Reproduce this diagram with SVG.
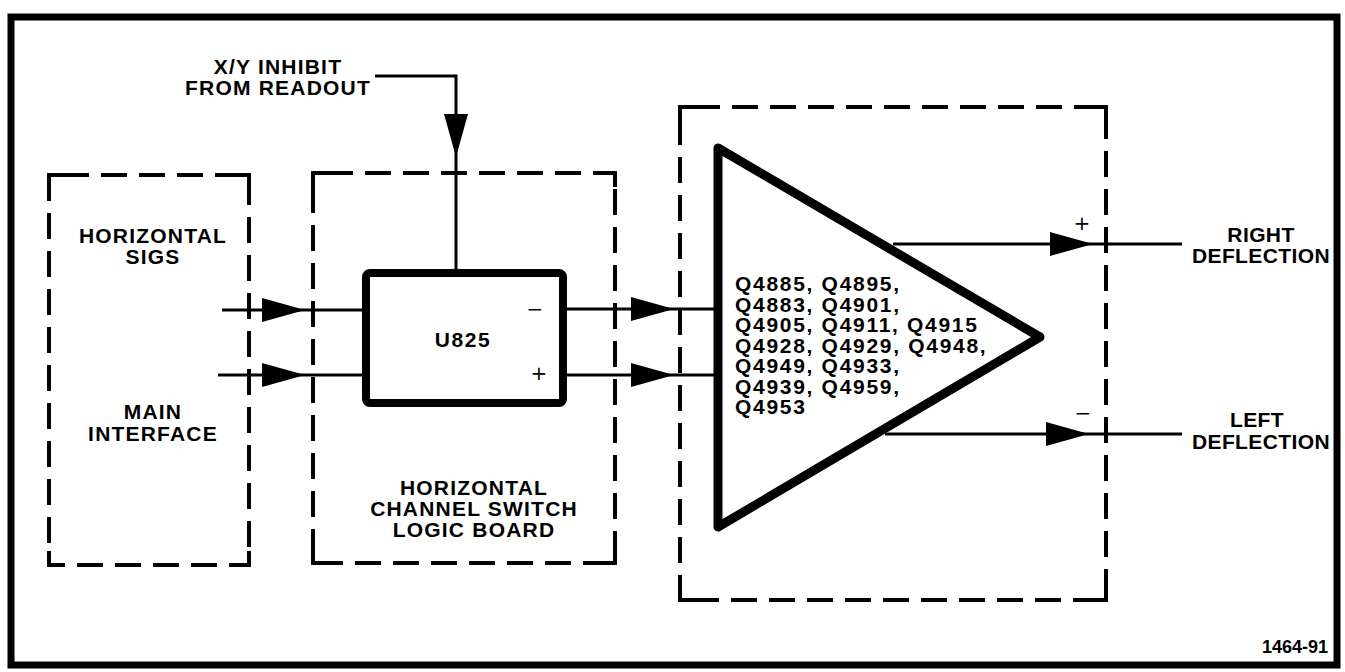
<svg xmlns="http://www.w3.org/2000/svg" width="1345" height="672" viewBox="0 0 1345 672">
<style>
.lbl{font-family:"Liberation Sans",Arial,sans-serif;font-weight:bold;font-size:21px;letter-spacing:1.2px;fill:#000;text-anchor:middle}
.qtx{font-family:"Liberation Sans",Arial,sans-serif;font-weight:bold;font-size:21px;letter-spacing:1.7px;fill:#000}
.sign{font-family:"DejaVu Sans",sans-serif;font-size:20px;fill:#000;text-anchor:middle}
.dash{fill:none;stroke:#000;stroke-width:4;stroke-dasharray:26 12}
.corner{fill:none;stroke:#000;stroke-width:4}
.wire{fill:none;stroke:#000;stroke-width:3;marker-end:url(#ah)}
</style>
<defs>
<marker id="ah" markerUnits="userSpaceOnUse" markerWidth="44" markerHeight="26" refX="43" refY="12" orient="auto">
<path d="M0,0 L43,12 L0,24 Z" fill="#000"/>
</marker>
</defs>
<rect x="0" y="0" width="1345" height="672" fill="#fff"/>
<rect id="frame" x="11" y="17" width="1326" height="648" fill="none" stroke="#000" stroke-width="7"/>

<g id="main-interface">
<rect class="dash" x="49" y="175" width="200" height="390" stroke-dashoffset="-14"/>
<path class="corner" d="M49,189 V175 H63 M235,175 H249 V189 M249,551 V565 H235 M63,565 H49 V551"/>
<text class="lbl"><tspan x="153" y="242.5">HORIZONTAL</tspan><tspan x="153" y="263.5">SIGS</tspan></text>
<text class="lbl"><tspan x="153" y="419">MAIN</tspan><tspan x="153" y="441">INTERFACE</tspan></text>
</g>

<g id="switch-board">
<rect class="dash" x="313" y="173" width="302" height="390" stroke-dashoffset="-14"/>
<path class="corner" d="M313,187 V173 H327 M601,173 H615 V187 M615,549 V563 H601 M327,563 H313 V549"/>
<text class="lbl"><tspan x="474" y="494.5">HORIZONTAL</tspan><tspan x="474" y="515.5">CHANNEL SWITCH</tspan><tspan x="474" y="536.5">LOGIC BOARD</tspan></text>
</g>

<g id="u825">
<rect x="366" y="273" width="197" height="130" rx="4" fill="#fff" stroke="#000" stroke-width="8"/>
<text class="lbl" x="463" y="347" style="letter-spacing:1.6px">U825</text>
<text class="sign" x="535" y="316">−</text>
<text class="sign" x="539" y="380">+</text>
</g>

<g id="amplifier">
<rect class="dash" x="680" y="107" width="426" height="493" stroke-dashoffset="-14"/>
<path class="corner" d="M680,121 V107 H694 M1092,107 H1106 V121 M1106,586 V600 H1092 M694,600 H680 V586"/>
<path d="M718,148 L1040,337 L718,527 Z" fill="#fff" stroke="#000" stroke-width="9" stroke-linejoin="round"/>
<text class="qtx"><tspan x="735" y="291">Q4885, Q4895,</tspan><tspan x="735" y="311.5">Q4883, Q4901,</tspan><tspan x="735" y="332">Q4905, Q4911, Q4915</tspan><tspan x="735" y="352.5">Q4928, Q4929, Q4948,</tspan><tspan x="735" y="373">Q4949, Q4933,</tspan><tspan x="735" y="393.5">Q4939, Q4959,</tspan><tspan x="735" y="414">Q4953</tspan></text>
<text class="sign" x="1082" y="230">+</text>
<text class="sign" x="1083" y="420">−</text>
</g>

<g id="inhibit-label">
<text class="lbl"><tspan x="278" y="74">X/Y INHIBIT</tspan><tspan x="278" y="95">FROM READOUT</tspan></text>
</g>

<g id="right-label">
<text class="lbl" style="letter-spacing:0.4px"><tspan x="1261" y="241.5">RIGHT</tspan><tspan x="1261" y="262.5">DEFLECTION</tspan></text>
</g>
<g id="left-label">
<text class="lbl" style="letter-spacing:0.4px"><tspan x="1257" y="427">LEFT</tspan><tspan x="1261" y="449">DEFLECTION</tspan></text>
</g>

<g id="connectors">
<path class="wire" d="M456,157 V273 M375,76 H456 V157"/>
<path class="wire" d="M305,310 H366 M222,310 H305"/>
<path class="wire" d="M305,375 H366 M218,375 H305"/>
<path class="wire" d="M674,309 H718 M567,309 H674"/>
<path class="wire" d="M674,375 H718 M567,375 H674"/>
<path class="wire" d="M1093,244 H1182 M893,244 H1093"/>
<path class="wire" d="M1089,434 H1182 M885,434 H1089"/>
</g>

<text x="1328" y="653" style="font-family:'Liberation Sans',Arial,sans-serif;font-weight:bold;font-size:18px;text-anchor:end">1464-91</text>
</svg>
